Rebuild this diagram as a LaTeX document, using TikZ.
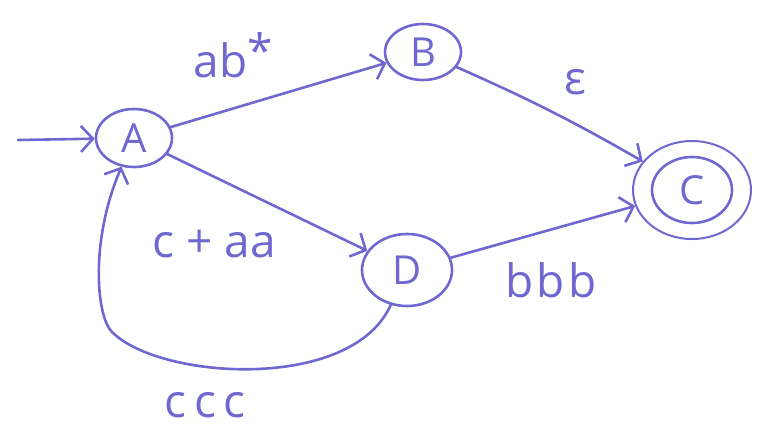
\documentclass[tikz,border=0pt]{standalone}
\usepackage{fontspec}
\setmainfont{Open Sans}
\usetikzlibrary{arrows.meta,shapes.geometric}
\definecolor{ink}{RGB}{112,104,208}
\tikzset{
  pen/.style={draw=ink, line width=2.6pt, line cap=round, line join=round},
  state/.style={pen, ellipse, inner sep=0pt, text=ink,
    font=\fontsize{40}{40}\selectfont},
  edgelabel/.style={text=ink, inner sep=0pt, font=\fontsize{46}{46}\selectfont},
  arc/.style={pen, -{Straight Barb[length=12pt,width=26pt,line width=2.6pt]}}
}
\begin{document}
\begin{tikzpicture}[x=1pt,y=-1pt]
  \useasboundingbox (0,0) rectangle (768,445);

  % states
  \node[state, minimum width=76pt, minimum height=58pt] (A) at (134,138) {A};
  \node[state, minimum width=76pt, minimum height=56pt] (B) at (423,52) {B};
  \node[state, minimum width=90pt, minimum height=72pt] (D) at (407,270) {D};
  \node[state, minimum width=118pt, minimum height=98pt, line width=2pt] (C) at (692,190) {C};
  \draw[pen] (C.center) ellipse [x radius=40, y radius=33];

  % initial arrow
  \coordinate (start) at (18,140);
  \draw[arc] (start) -- (A);

  % transitions
  \draw[arc] (A) -- (B);
  \draw[arc] (B) to[bend left=3] (C);
  \draw[arc] (A) -- (D);
  \draw[arc] (D) -- (C);
  % loop back from D to A, passing below the picture
  \coordinate (bend) at (112,332);
  \draw[arc] (D.245) .. controls (352,392) and (160,380) .. (bend)
    .. controls (96,316) and (90,240) .. (A);

  % labels
  \node[edgelabel] (lab) at (233,55) {ab\raisebox{10pt}{*}};
  \node[edgelabel] (leps) at (575,82) {ε};
  \node[edgelabel] (lcaa) at (214,244) {c\hspace{12pt}+\hspace{12pt}aa};
  \node[edgelabel] (lbbb) at (551,280) {b\hspace{3pt}b\hspace{3pt}b};
  \node[edgelabel] (lccc) at (205,405) {c\hspace{8pt}c\hspace{8pt}c};
\end{tikzpicture}
\end{document}
